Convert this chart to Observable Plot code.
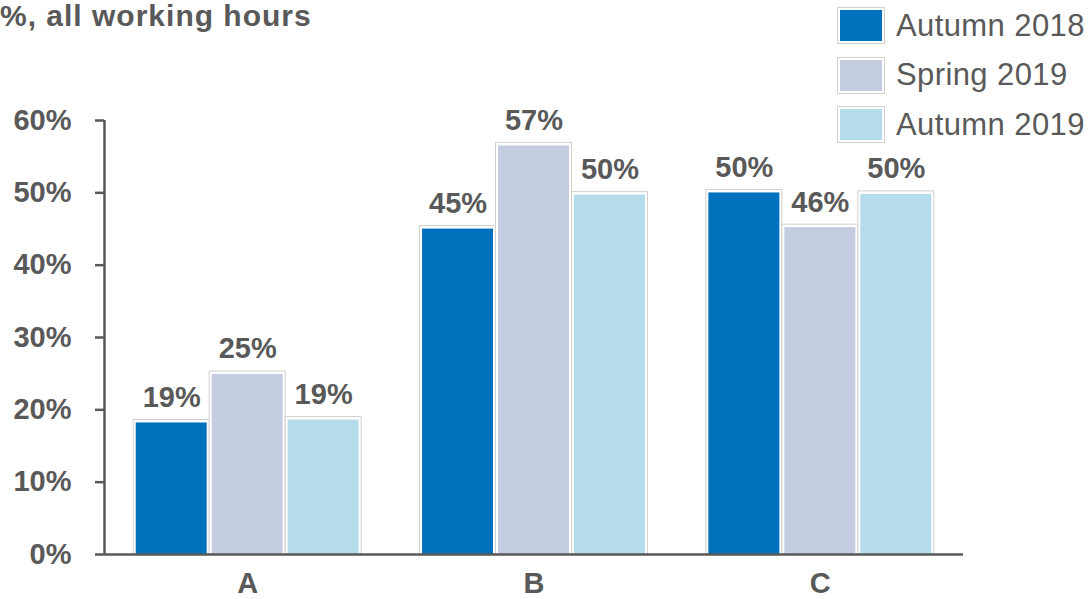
<!DOCTYPE html>
<html>
<head>
<meta charset="utf-8">
<script src="https://cdn.jsdelivr.net/npm/d3@7"></script>
<script src="https://cdn.jsdelivr.net/npm/@observablehq/plot@0.6"></script>
<style>
  html, body { margin: 0; padding: 0; background: #fff; }
  #wrap { position: relative; width: 1091px; height: 599px; font-family: "Liberation Sans", Arial, sans-serif; color: #595959; }
  #title { position: absolute; left: 0; top: 0; font-size: 30px; line-height: 31px; letter-spacing: 1px; font-weight: bold; white-space: nowrap; }
  #legend { position: absolute; left: 837px; top: 7px; }
  .row { display: flex; align-items: center; height: 37px; margin-bottom: 12.5px; }
  .box { width: 46px; height: 35px; border: 1px solid #d2d2d2; padding: 0; display: flex; align-items: center; justify-content: center; background: #fff; }
  .sw { width: 42px; height: 31px; }
  .lab { margin-left: 11px; font-size: 31px; letter-spacing: 0.4px; white-space: nowrap; }
  #chart { position: absolute; left: 0; top: 0; }
</style>
</head>
<body>
<div id="wrap">
  <div id="chart"></div>
  <div id="title">%, all working hours</div>
  <div id="legend"></div>
</div>
<script>
// Share of all working hours by group, three survey waves
const categories = ["A", "B", "C"];
const seriesNames = ["Autumn 2018", "Spring 2019", "Autumn 2019"];
const autumn2018 = [18.6, 45.4, 50.4];
const spring2019 = [25.3, 56.9, 45.6];
const autumn2019 = [19.0, 50.1, 50.2];
const seriesColors = ["#0071BC", "#C4CDE0", "#B5DCEB"];
const yTicks = [0, 10, 20, 30, 40, 50, 60];

// Bar layout within each category slot (in category units)
const groupPad = 0.102;
const barWidth = (1 - 2 * groupPad) / seriesNames.length;

const seriesValues = [autumn2018, spring2019, autumn2019];
const rows = categories.flatMap((category, i) =>
  seriesValues.map((values, j) => ({
    category,
    series: seriesNames[j],
    value: values[i],
    x1: i + groupPad + j * barWidth,
    x2: i + groupPad + (j + 1) * barWidth
  }))
);

const ink = "#595959";

const chart = Plot.plot({
  width: 1091,
  height: 599,
  marginLeft: 104,
  marginRight: 128,
  marginTop: 120,
  marginBottom: 45,
  style: { fontFamily: "'Liberation Sans', Arial, sans-serif", background: "transparent", overflow: "visible" },
  x: { domain: [0, categories.length], axis: null },
  y: { domain: [0, 60], axis: null },
  color: { domain: seriesNames, range: seriesColors },
  marks: [
    // outer light outline of each bar
    Plot.rect(rows, { x1: "x1", x2: "x2", y1: 0, y2: "value", fill: "#fff", stroke: "#d0d0d0", strokeWidth: 1 }),
    // coloured fill, inset to leave a white rim
    Plot.rect(rows, { x1: "x1", x2: "x2", y1: 0, y2: "value", fill: "series", insetLeft: 2.5, insetRight: 2.5, insetTop: 3 }),
    Plot.ruleY([0], { stroke: ink, strokeWidth: 2.5 }),
    Plot.ruleX([0], { stroke: ink, strokeWidth: 2.5 }),
    Plot.axisY({
      ticks: yTicks,
      tickFormat: d => d + "%",
      tickSize: 9,
      tickPadding: 24,
      strokeWidth: 2.5,
      color: ink,
      fontSize: 29,
      fontWeight: "bold",
      label: null
    }),
    Plot.axisX({
      ticks: categories.map((_, i) => i + 0.5),
      tickFormat: d => categories[Math.floor(d)],
      tickSize: 0,
      tickPadding: 18,
      color: ink,
      fontSize: 29,
      fontWeight: "bold",
      label: null
    }),
    Plot.text(rows, {
      x: d => (d.x1 + d.x2) / 2,
      y: "value",
      text: d => Math.round(d.value) + "%",
      lineAnchor: "bottom",
      dy: -13,
      fill: ink,
      fontSize: 29,
      fontWeight: "bold"
    })
  ]
});
document.getElementById("chart").append(chart);

// Legend
const legend = document.getElementById("legend");
seriesNames.forEach((name, i) => {
  const row = document.createElement("div");
  row.className = "row";
  row.innerHTML = `<div class="box"><div class="sw" style="background:${seriesColors[i]}"></div></div><div class="lab">${name}</div>`;
  legend.append(row);
});
</script>
</body>
</html>
